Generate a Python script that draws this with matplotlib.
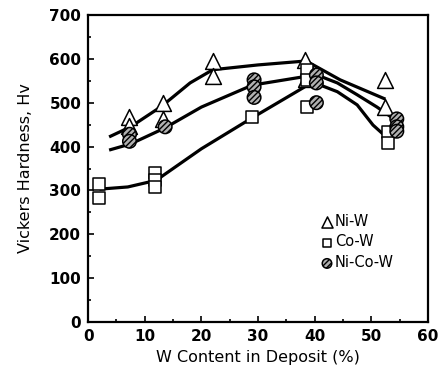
import matplotlib.pyplot as plt
from matplotlib.ticker import MultipleLocator

plt.rcParams['font.family'] = ['DejaVu Sans']

# Measured points
niw_x = [7.2, 7.2, 13.2, 13.2, 22.0, 22.0, 38.3, 38.5, 52.4, 52.4]
niw_y = [467, 447, 499, 463, 595, 560, 597, 553, 552, 490]

cow_x = [1.9, 1.9, 11.8, 11.8, 11.8, 28.9, 38.6, 38.6, 38.6, 53.0, 53.0]
cow_y = [315, 283, 340, 324, 308, 467, 575, 552, 490, 433, 408]

nicow_x = [7.3, 7.3, 13.6, 29.3, 29.3, 29.3, 40.3, 40.3, 40.3, 54.5, 54.5, 54.5]
nicow_y = [428, 412, 445, 552, 536, 512, 563, 545, 500, 463, 445, 435]

# Fitted curves
niw_fit_x = [3.7, 7.5, 13, 18, 22, 30, 38.5, 44.5, 52.5]
niw_fit_y = [422, 445, 492, 545, 575, 586, 595, 552, 508]

nicow_fit_x = [3.7, 7.5, 13.5, 20, 29, 38.5, 41, 44, 47.5, 51, 54]
nicow_fit_y = [392, 406, 442, 490, 540, 560, 560, 545, 518, 490, 463]

cow_fit_x = [2, 7, 12, 20, 28.9, 38.5, 41, 44, 47.5, 50.3, 52.8]
cow_fit_y = [303, 308, 323, 395, 465, 538, 540, 525, 495, 449, 420]

fig = plt.figure(figsize=(4.43, 3.72), dpi=100)
ax = fig.add_axes([0.199, 0.134, 0.767, 0.826])

ax.plot(niw_fit_x, niw_fit_y, color='black', lw=2.3, solid_capstyle='butt', zorder=2)
ax.plot(nicow_fit_x, nicow_fit_y, color='black', lw=2.3, solid_capstyle='butt', zorder=2)
ax.plot(cow_fit_x, cow_fit_y, color='black', lw=2.3, solid_capstyle='butt', zorder=2)

ax.scatter(niw_x, niw_y, marker='^', s=130, facecolor='white', edgecolor='black',
           linewidth=1.1, zorder=3, label='Ni-W')
ax.scatter(cow_x, cow_y, marker='s', s=75, facecolor='white', edgecolor='black',
           linewidth=1.1, zorder=3, label='Co-W')
ax.scatter(nicow_x, nicow_y, marker='o', s=95, facecolor='#b0b0b0', edgecolor='black',
           hatch='//////', linewidth=1.1, zorder=4, label='Ni-Co-W')

ax.set_xlim(0, 60)
ax.set_ylim(0, 700)
ax.xaxis.set_major_locator(MultipleLocator(10))
ax.xaxis.set_minor_locator(MultipleLocator(5))
ax.yaxis.set_major_locator(MultipleLocator(100))
ax.yaxis.set_minor_locator(MultipleLocator(50))
ax.tick_params(which='both', direction='in', top=False, right=False, width=1.2)
ax.tick_params(which='major', length=4, labelsize=11, pad=5)
ax.tick_params(which='minor', length=2.5)
for lab in ax.get_xticklabels() + ax.get_yticklabels():
    lab.set_fontweight('bold')
for sp in ax.spines.values():
    sp.set_linewidth(1.6)

ax.set_xlabel('W Content in Deposit (%)', fontsize=11.5, labelpad=4)
ax.set_ylabel('Vickers Hardness, Hv', fontsize=11.5, labelpad=12)

ax.legend(loc='upper left', bbox_to_anchor=(0.66, 0.377), frameon=False,
          fontsize=10.5, handletextpad=0.05, borderpad=0, labelspacing=0.4,
          handlelength=1.0, scatterpoints=1, markerscale=0.7)

fig.savefig('out.png', dpi=100)
